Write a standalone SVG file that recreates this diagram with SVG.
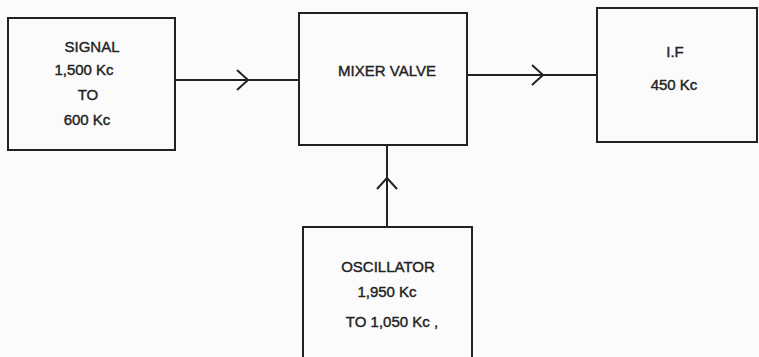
<svg xmlns="http://www.w3.org/2000/svg" width="759" height="357" viewBox="0 0 759 357">
<style>
.box{fill:none;stroke:#222;stroke-width:2}
.wire{fill:none;stroke:#222;stroke-width:2}
text{font-family:"Liberation Sans",Arial,sans-serif;font-size:15px;fill:#222;stroke:#222;stroke-width:0.4;text-anchor:middle}
</style>
<defs>
<marker id="chev" markerUnits="userSpaceOnUse" viewBox="0 0 14 22" refX="12" refY="11" markerWidth="14" markerHeight="22" orient="auto">
<path d="M1,1 L12,11 L1,21" fill="none" stroke="#222" stroke-width="2"/>
</marker>
</defs>
<rect width="759" height="357" fill="#fbfbfb"/>
<g id="connectors">
<path class="wire" d="M175,80 L248,80 L299,80" marker-mid="url(#chev)"/>
<path class="wire" d="M467,75 L543,75 L597,75" marker-mid="url(#chev)"/>
<path class="wire" d="M387,227 L387,178 L387,145" marker-mid="url(#chev)"/>
</g>
<g id="signal">
<rect class="box" x="8" y="18" width="167" height="132"/>
<text x="92" y="52">SIGNAL</text>
<text x="84" y="75">1,500 Kc</text>
<text x="88" y="100">TO</text>
<text x="87" y="125">600 Kc</text>
</g>
<g id="mixer">
<rect class="box" x="299" y="13" width="168" height="132"/>
<text x="387" y="76">MIXER VALVE</text>
</g>
<g id="if">
<rect class="box" x="597" y="8" width="160" height="134"/>
<text x="675" y="57">I.F</text>
<text x="674" y="90">450 Kc</text>
</g>
<g id="oscillator">
<rect class="box" x="303" y="227" width="169" height="140"/>
<text x="388" y="272">OSCILLATOR</text>
<text x="387" y="297">1,950 Kc</text>
<text x="392" y="327">TO 1,050 Kc ,</text>
</g>
</svg>
